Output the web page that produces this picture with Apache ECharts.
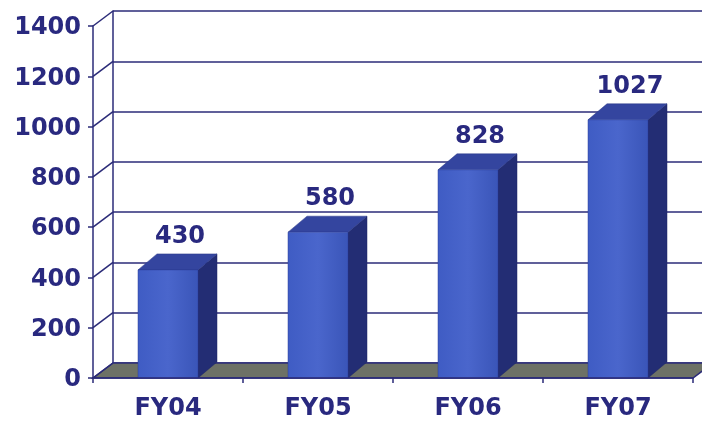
<!DOCTYPE html>
<html><head><meta charset="utf-8">
<script src="https://cdn.jsdelivr.net/npm/echarts@6/dist/echarts.min.js"></script>
<style>html,body{margin:0;padding:0;background:#fff}#c{width:702px;height:421px}</style>
</head><body><div id="c"></div>
<script>
var categories = ['FY04', 'FY05', 'FY06', 'FY07'];
var values = [430, 580, 828, 1027];
var yTicks = [0, 200, 400, 600, 800, 1000, 1200, 1400];

var NAVY = '#29297f';
var LINE = '#2b2b78';
var WALL_DX = 20, WALL_DY = -15;
var BAR_DX = 19, BAR_DY = -16;
var FONT = 'DejaVu Sans';
var FS = 24;

var chart = echarts.init(document.getElementById('c'));

function barItem(params, api) {
  var i = api.value(0), v = api.value(1);
  var top = api.coord([i, v]);
  var base = api.coord([i, 0]);
  var bw = api.size([1, 0])[0] * 0.4;
  var x0 = top[0] - bw / 2, x1 = top[0] + bw / 2;
  var yt = top[1], yb = base[1];
  return {
    type: 'group',
    children: [
      { type: 'polygon', shape: { points: [[x1, yt], [x1 + BAR_DX, yt + BAR_DY], [x1 + BAR_DX, yb + BAR_DY], [x1, yb]] },
        style: { fill: '#232d74', stroke: '#1f2766', lineWidth: 0.5 } },
      { type: 'polygon', shape: { points: [[x0, yt], [x0 + BAR_DX, yt + BAR_DY], [x1 + BAR_DX, yt + BAR_DY], [x1, yt]] },
        style: { fill: '#34459f', stroke: '#2a3888', lineWidth: 0.5 } },
      { type: 'rect', shape: { x: x0, y: yt, width: bw, height: yb - yt },
        style: { fill: new echarts.graphic.LinearGradient(0, 0, 1, 0, [
          { offset: 0, color: '#3f5cc4' }, { offset: 0.5, color: '#4a66cc' }, { offset: 1, color: '#3a55b8' }]),
          stroke: '#2d3f9a', lineWidth: 0.5 } },
      { type: 'text', x: top[0] + 12, y: yt - 33,
        style: { text: String(v), fill: NAVY, font: 'bold ' + FS + 'px ' + FONT, align: 'center', verticalAlign: 'middle' } }
    ]
  };
}

function connectorItem(params, api) {
  var cs = params.coordSys;
  var t = api.value(0);
  var p = api.coord([0, t]);
  var x = cs.x;
  return { type: 'group', children: [
    { type: 'line', shape: { x1: x, y1: p[1], x2: x + WALL_DX, y2: p[1] + WALL_DY },
      style: { stroke: LINE, lineWidth: 1.5 } },
    { type: 'text', x: x - 12, y: p[1] + 2,
      style: { text: String(t), fill: NAVY, font: 'bold ' + FS + 'px ' + FONT, align: 'right', verticalAlign: 'middle' } }
  ] };
}

function floorItem(params, api) {
  var cs = params.coordSys;
  var y0 = api.coord([0, 0])[1];
  var xl = cs.x, xr = cs.x + cs.width;
  return { type: 'polygon', shape: { points: [[xl, y0], [xr, y0], [xr + WALL_DX, y0 + WALL_DY], [xl + WALL_DX, y0 + WALL_DY]] },
    style: { fill: '#6d7166', stroke: LINE, lineWidth: 1.5 } };
}

chart.setOption({
  animation: false,
  backgroundColor: '#ffffff',
  grid: [
    { left: 93, right: 9, top: 26, bottom: 43 },
    { left: 93 + WALL_DX, right: 9 - WALL_DX, top: 26 + WALL_DY, bottom: 43 - WALL_DY }
  ],
  xAxis: [
    { type: 'category', gridIndex: 0, data: categories, boundaryGap: true,
      axisLine: { lineStyle: { color: LINE, width: 1.5 } },
      axisTick: { show: true, length: 5, lineStyle: { color: LINE, width: 1.5 } },
      axisLabel: { color: NAVY, fontFamily: FONT, fontWeight: 'bold', fontSize: FS, margin: 19 },
      z: 5 },
    { type: 'category', gridIndex: 1, data: categories, show: false }
  ],
  yAxis: [
    { type: 'value', gridIndex: 0, min: 0, max: 1400, interval: 200,
      axisLine: { show: true, lineStyle: { color: LINE, width: 1.5 } },
      axisTick: { show: true, length: 5, lineStyle: { color: LINE, width: 1.5 } },
      splitLine: { show: false },
      axisLabel: { show: false } },
    { type: 'value', gridIndex: 1, min: 0, max: 1400, interval: 200,
      axisLine: { show: true, lineStyle: { color: LINE, width: 1.5 } },
      axisTick: { show: false },
      axisLabel: { show: false },
      splitLine: { show: true, lineStyle: { color: LINE, width: 1.5 } } }
  ],
  series: [
    { type: 'custom', xAxisIndex: 0, yAxisIndex: 0, renderItem: floorItem, data: [[0]], z: 2, silent: true },
    { type: 'custom', xAxisIndex: 0, yAxisIndex: 0, renderItem: connectorItem, data: yTicks.map(function (t) { return [t]; }), z: 2, silent: true, clip: false },
    { type: 'custom', xAxisIndex: 0, yAxisIndex: 0, renderItem: barItem,
      data: values.map(function (v, i) { return [i, v]; }), z: 3 }
  ]
});
</script>
</body></html>
